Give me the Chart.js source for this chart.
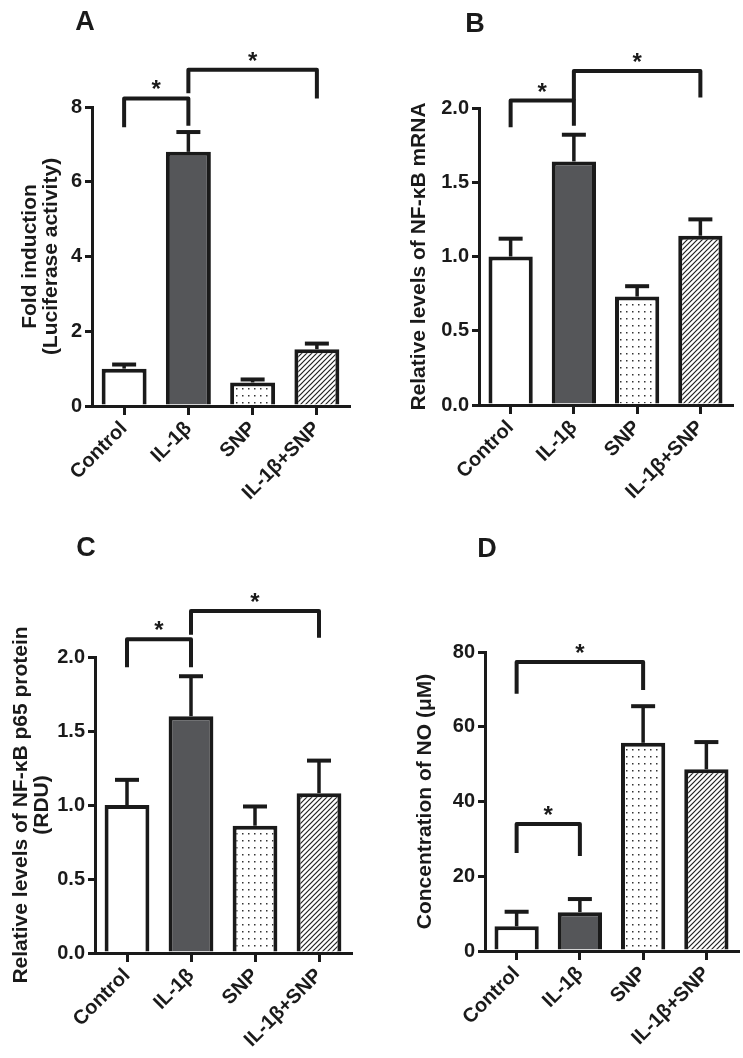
<!DOCTYPE html>
<html>
<head>
<meta charset="utf-8">
<script src="https://cdn.jsdelivr.net/npm/chart.js@4/dist/chart.umd.min.js"></script>
<style>
  body { margin: 0; background: #fff; }
  #wrap { position: relative; width: 743px; height: 1058px; }
  canvas { position: absolute; }
</style>
</head>
<body>
<div id="wrap">
  <canvas id="panel-a" width="372" height="529" style="left:0;top:0"></canvas>
  <canvas id="panel-b" width="371" height="529" style="left:372px;top:0"></canvas>
  <canvas id="panel-c" width="372" height="529" style="left:0;top:529px"></canvas>
  <canvas id="panel-d" width="371" height="529" style="left:372px;top:529px"></canvas>
</div>
<script>
// groups shown on every panel
const groups = ["Control", "IL-1β", "SNP", "IL-1β+SNP"];

// A – luciferase fold induction
const luciferaseMean = [1.0, 6.8, 0.63, 1.52];
const luciferaseErr = [0.11, 0.53, 0.08, 0.15];
const luciferaseTicks = [0, 2, 4, 6, 8];

// B – NF-kB mRNA
const mrnaMean = [1.0, 1.64, 0.73, 1.14];
const mrnaErr = [0.12, 0.18, 0.07, 0.11];
const mrnaTicks = [0.0, 0.5, 1.0, 1.5, 2.0];

// C – NF-kB p65 protein
const p65Mean = [1.0, 1.6, 0.86, 1.08];
const p65Err = [0.17, 0.27, 0.13, 0.22];
const p65Ticks = [0.0, 0.5, 1.0, 1.5, 2.0];

// D – NO concentration
const noMean = [6.6, 10.4, 55.7, 48.6];
const noErr = [3.9, 3.5, 9.8, 7.3];
const noTicks = [0, 20, 40, 60, 80];

const FONT = "'Liberation Sans', Arial, sans-serif";
const INK = "#1a1a1a";

function dotPattern(ctx) {
  const c = document.createElement("canvas");
  c.width = 6; c.height = 7;
  const g = c.getContext("2d");
  g.fillStyle = "#fff";
  g.fillRect(0, 0, 6, 7);
  g.fillStyle = "#333";
  g.fillRect(2, 3, 1.5, 1.5);
  return ctx.createPattern(c, "repeat");
}

function hatchPattern(ctx) {
  const s = 5;
  const c = document.createElement("canvas");
  c.width = s; c.height = s;
  const g = c.getContext("2d");
  g.fillStyle = "#fff";
  g.fillRect(0, 0, s, s);
  g.strokeStyle = "#222";
  g.lineWidth = 1.2;
  g.beginPath();
  g.moveTo(0, s); g.lineTo(s, 0);
  g.moveTo(-1, 1); g.lineTo(1, -1);
  g.moveTo(s - 1, s + 1); g.lineTo(s + 1, s - 1);
  g.stroke();
  return ctx.createPattern(c, "repeat");
}

// error bars, significance brackets and panel letter
const extrasPlugin = {
  id: "extras",
  afterDatasetsDraw(chart, args, opts) {
    const ctx = chart.ctx;
    const xs = chart.scales.x, ys = chart.scales.y;
    const meta = chart.getDatasetMeta(0);
    const vals = chart.data.datasets[0].data;
    ctx.save();
    ctx.strokeStyle = INK;
    ctx.fillStyle = INK;
    meta.data.forEach((bar, i) => {
      const yTop = ys.getPixelForValue(vals[i] + opts.errors[i]);
      ctx.lineWidth = 3.5;
      ctx.beginPath();
      ctx.moveTo(bar.x, bar.y);
      ctx.lineTo(bar.x, yTop);
      ctx.stroke();
      ctx.lineWidth = 4;
      ctx.beginPath();
      ctx.moveTo(bar.x - 12, yTop);
      ctx.lineTo(bar.x + 12, yTop);
      ctx.stroke();
    });

    opts.brackets.forEach(b => {
      const x1 = xs.getPixelForValue(b.from);
      const x2 = xs.getPixelForValue(b.to);
      const yt = ys.getPixelForValue(b.top);
      ctx.lineWidth = 4;
      ctx.lineJoin = "round";
      ctx.beginPath();
      ctx.moveTo(x1, ys.getPixelForValue(b.left));
      ctx.lineTo(x1, yt);
      ctx.lineTo(x2, yt);
      ctx.lineTo(x2, ys.getPixelForValue(b.right));
      ctx.stroke();
      ctx.font = "bold 24px " + FONT;
      ctx.textAlign = "center";
      ctx.textBaseline = "alphabetic";
      ctx.fillText("*", (x1 + x2) / 2, yt - 1);
    });

    ctx.font = "bold 27px " + FONT;
    ctx.textAlign = "center";
    ctx.textBaseline = "middle";
    ctx.fillText(opts.letter, opts.letterX, opts.letterY);
    ctx.restore();
  }
};

function makePanel(id, p) {
  const canvas = document.getElementById(id);
  const ctx = canvas.getContext("2d");
  return new Chart(ctx, {
    type: "bar",
    data: {
      labels: groups,
      datasets: [{
        data: p.values,
        backgroundColor: ["#ffffff", "#555659", dotPattern(ctx), hatchPattern(ctx)],
        borderColor: INK,
        borderWidth: 4,
        borderSkipped: "bottom",
        categoryPercentage: 1,
        barPercentage: 0.7
      }]
    },
    options: {
      responsive: false,
      animation: false,
      layout: { padding: { top: p.top, right: p.right, left: 0, bottom: 0 } },
      plugins: {
        legend: { display: false },
        tooltip: { enabled: false },
        extras: {
          errors: p.errors,
          brackets: p.brackets,
          letter: p.letter,
          letterX: p.letterX,
          letterY: p.letterY
        }
      },
      scales: {
        x: {
          offset: true,
          ticks: {
            autoSkip: false,
            minRotation: 45,
            maxRotation: 45,
            color: INK,
            padding: 2,
            font: { family: FONT, size: 20, weight: "bold" }
          },
          grid: {
            offset: false,
            drawOnChartArea: false,
            drawTicks: true,
            tickLength: 9,
            color: INK,
            lineWidth: 3
          },
          border: { color: INK, width: 3 },
          afterFit: s => { s.height = p.xHeight; }
        },
        y: {
          min: p.ticks[0],
          max: p.ticks[p.ticks.length - 1],
          afterBuildTicks: s => { s.ticks = p.ticks.map(v => ({ value: v })); },
          ticks: {
            color: INK,
            padding: 3,
            font: { family: FONT, size: 20, weight: "bold" },
            callback: v => v.toFixed(p.decimals)
          },
          grid: {
            drawOnChartArea: false,
            drawTicks: true,
            tickLength: 7,
            color: INK,
            lineWidth: 3
          },
          border: { color: INK, width: 3 },
          title: {
            display: true,
            text: p.title,
            color: INK,
            padding: { top: p.titlePad, bottom: 0 },
            font: { family: FONT, size: 21, weight: "bold", lineHeight: 1 }
          },
          afterFit: s => { s.width = p.yWidth; }
        }
      }
    },
    plugins: [extrasPlugin]
  });
}

makePanel("panel-a", {
  values: luciferaseMean, errors: luciferaseErr, ticks: luciferaseTicks, decimals: 0,
  title: ["Fold induction", "(Luciferase activity)"], titlePad: 20,
  top: 107, right: 23, yWidth: 92, xHeight: 123,
  letter: "A", letterX: 85, letterY: 23,
  brackets: [
    { from: 0, to: 1, top: 8.23, left: 7.46, right: 7.5 },
    { from: 1, to: 3, top: 9.0, left: 8.37, right: 8.23 }
  ]
});

makePanel("panel-b", {
  values: mrnaMean, errors: mrnaErr, ticks: mrnaTicks, decimals: 1,
  title: "Relative levels of NF-κB mRNA", titlePad: 37,
  top: 108, right: 11, yWidth: 107, xHeight: 124,
  letter: "B", letterX: 103, letterY: 25,
  brackets: [
    { from: 0, to: 1, top: 2.05, left: 1.87, right: 1.88 },
    { from: 1, to: 3, top: 2.25, left: 2.05, right: 2.07 }
  ]
});

makePanel("panel-c", {
  values: p65Mean, errors: p65Err, ticks: p65Ticks, decimals: 1,
  title: ["Relative levels of NF-κB p65 protein", "(RDU)"], titlePad: 11,
  top: 128, right: 21, yWidth: 95, xHeight: 105,
  letter: "C", letterX: 86, letterY: 20,
  brackets: [
    { from: 0, to: 1, top: 2.12, left: 1.93, right: 1.93 },
    { from: 1, to: 3, top: 2.31, left: 2.15, right: 2.13 }
  ]
});

makePanel("panel-d", {
  values: noMean, errors: noErr, ticks: noTicks, decimals: 0,
  title: "Concentration of NO (μM)", titlePad: 43,
  top: 123, right: 5, yWidth: 113, xHeight: 107,
  letter: "D", letterX: 115, letterY: 21,
  brackets: [
    { from: 0, to: 2, top: 77.3, left: 68.8, right: 69.8 },
    { from: 0, to: 1, top: 34, left: 26.2, right: 25.4 }
  ]
});
</script>
</body>
</html>
